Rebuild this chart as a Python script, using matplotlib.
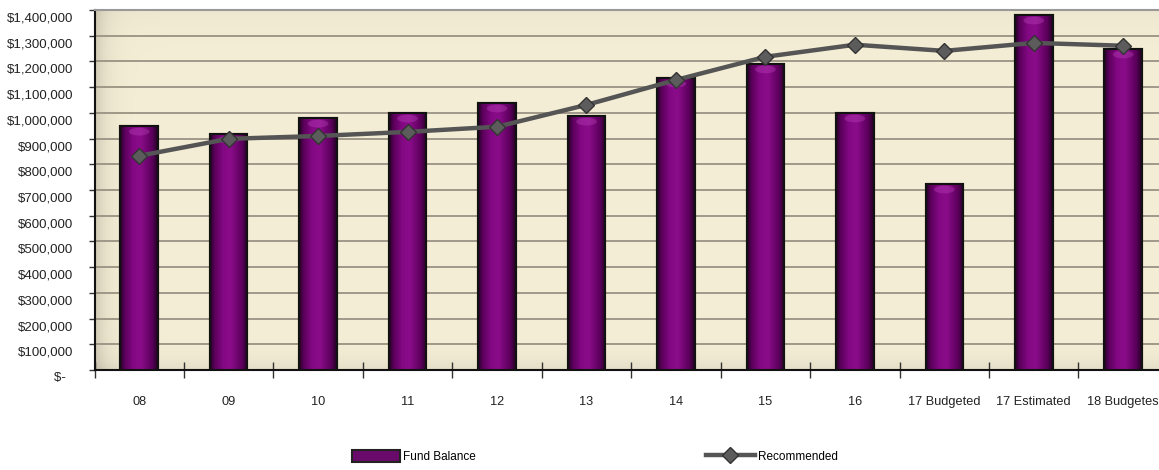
import numpy as np
import matplotlib
matplotlib.use('Agg')
import matplotlib.pyplot as plt
from matplotlib.colors import LinearSegmentedColormap
from matplotlib.patches import Rectangle, Ellipse
from matplotlib.lines import Line2D
from matplotlib.transforms import ScaledTranslation
from matplotlib.ticker import FixedLocator, FuncFormatter

plt.rcParams['font.family'] = ['Liberation Sans', 'DejaVu Sans']

# Data
years = ['08', '09', '10', '11', '12', '13', '14', '15', '16',
         '17 Budgeted', '17 Estimated', '18 Budgetes']
fund_balance = [949000, 918000, 980000, 1000000, 1039000, 988000,
                1136000, 1191000, 1000000, 724000, 1381000, 1249000]
recommended = [833000, 899000, 910000, 926000, 946000, 1031000,
               1128000, 1218000, 1265000, 1241000, 1272000, 1261000]
y_ticks = list(range(0, 1400001, 100000))

W, H = 1159, 470
fig = plt.figure(figsize=(W / 100, H / 100), dpi=100)
ax = fig.add_axes([94.5 / W, 100 / H, (W - 94.5) / W, 360 / H])

x = np.arange(len(years))
ax.set_xlim(-0.5, 11.4)
ax.set_ylim(0, 1400000)

# cream wall with a soft shadow on the left and at the bottom
gx = np.linspace(0, 1, 400)
gy = np.linspace(0, 1, 200)
X, Y = np.meshgrid(gx, gy)
shade = 1 - 0.14 * np.exp(-X / 0.01) - 0.07 * np.exp(-Y / 0.03) - 0.03 * np.exp(-(1 - Y) / 0.05)
base = np.array([245, 238, 214]) / 255
img = np.clip(base[None, None, :] * shade[:, :, None], 0, 1)
ax.imshow(img, extent=(0, 1, 0, 1), transform=ax.transAxes, origin='lower',
          aspect='auto', zorder=0)

ax.set_axisbelow(True)
ax.yaxis.grid(True, color='#9a9282', linewidth=1.3, zorder=1)

# bars with a cylinder-like shading
bars = ax.bar(x, fund_balance, width=0.42, color='#800080', edgecolor='#111111',
              linewidth=1.5, zorder=3)
cyl = LinearSegmentedColormap.from_list('cyl', [
    (0.0, '#240024'), (0.12, '#5c005c'), (0.35, '#840884'),
    (0.55, '#8a0c8a'), (0.85, '#5c005c'), (1.0, '#240024')])
grad = np.linspace(0, 1, 64)[None, :]
for b in bars:
    bx, bw, bh = b.get_x(), b.get_width(), b.get_height()
    im = ax.imshow(grad, cmap=cyl, extent=(bx, bx + bw, 0, bh), aspect='auto',
                   zorder=3.5, origin='lower')
    im.set_clip_path(b)
    hl = Ellipse((bx + bw / 2, bh - 22000), bw * 0.55, 30000,
                 facecolor='#b840b8', alpha=0.4, edgecolor='none', zorder=3.6)
    ax.add_patch(hl)
    hl.set_clip_path(b)
    edge = Rectangle((bx, 0), bw, bh, fill=False, edgecolor='#111111',
                     linewidth=1.5, zorder=3.7)
    ax.add_patch(edge)

ax.plot(x, recommended, color='#555555', linewidth=3.2, marker='D',
        markersize=8, markerfacecolor='#5c5c5c', markeredgecolor='#333333',
        markeredgewidth=1, zorder=5)

# axes styling
for s in ['left', 'bottom']:
    ax.spines[s].set_color('#111111')
    ax.spines[s].set_linewidth(1.5)
ax.spines['top'].set_color('#999999')
ax.spines['top'].set_linewidth(1.5)
ax.spines['right'].set_visible(False)

ax.yaxis.set_major_locator(FixedLocator(y_ticks))
ax.yaxis.set_major_formatter(FuncFormatter(
    lambda v, p: '$-  ' if v == 0 else '${:,.0f}'.format(v)))
ax.tick_params(axis='y', length=4.3, width=1, color='#333333', pad=11,
               labelsize=9.5, labelcolor='#222222')
offset = ScaledTranslation(0, -7 / 100, fig.dpi_scale_trans)
for lab in ax.get_yticklabels():
    lab.set_transform(lab.get_transform() + offset)

ax.set_xticks(x)
ax.set_xticklabels(years)
ax.set_xticks(np.arange(-0.5, 11.5, 1.0), minor=True)
ax.tick_params(axis='x', which='major', length=0, pad=19, labelsize=9.2,
               labelcolor='#222222')
ax.tick_params(axis='x', which='minor', direction='inout', length=12,
               width=1, color='#333333')

# legend
h1 = Rectangle((0, 0), 1, 1, facecolor='#6a0a6a', edgecolor='#222222', linewidth=1.5)
h2 = Line2D([], [], color='#555555', linewidth=3.2, marker='D', markersize=8,
            markerfacecolor='#5c5c5c', markeredgecolor='#333333')
fig.legend([h1, h2], ['Fund Balance', 'Recommended'], ncol=2, frameon=False,
           loc='upper left', bbox_to_anchor=(346 / W, 1 - 444 / H),
           borderpad=0, handlelength=4.1, handleheight=1.2, handletextpad=0.25,
           columnspacing=19.5, fontsize=8.5, numpoints=1)

fig.savefig('out.png', dpi=100)
